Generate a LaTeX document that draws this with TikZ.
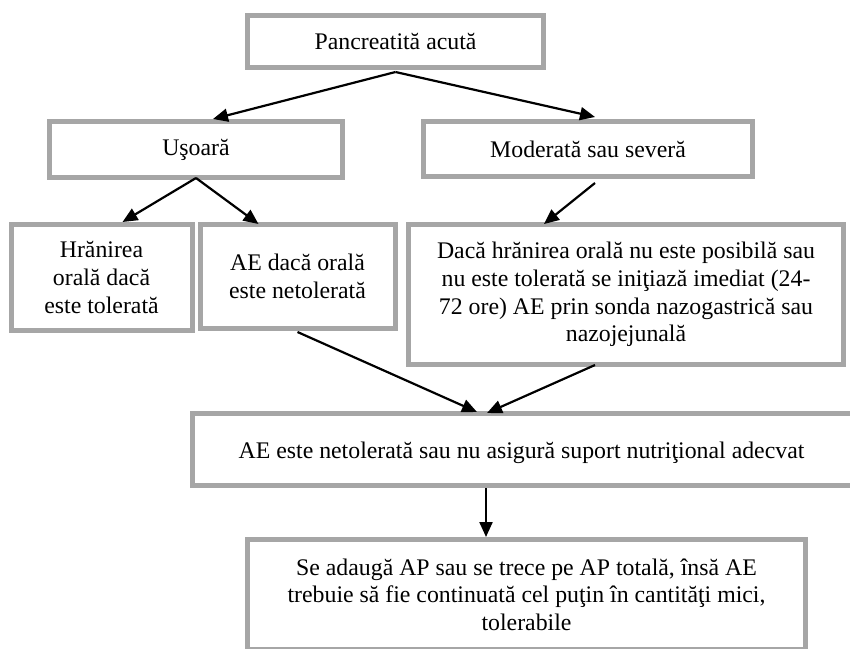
\documentclass[tikz,border=0pt]{standalone}
\usepackage{fontspec}
\setmainfont{Liberation Serif}
\usetikzlibrary{arrows.meta,calc}
\definecolor{boxgray}{RGB}{166,166,166}
\begin{document}
\begin{tikzpicture}[x=1pt,y=-1pt,
  box/.style={draw=boxgray, line width=5pt, fill=white, inner sep=0pt, align=center,
    font=\fontsize{23.8}{27.6}\selectfont},
  txt/.style={inner sep=0pt, align=center, font=\fontsize{23.8}{27.6}\selectfont},
  arr/.style={draw=black, line width=2.2pt, -{Triangle[length=15pt,width=13pt]}}]
\fill[white] (0,0) rectangle (850,648);
\useasboundingbox (0,0) rectangle (850,648);
% boxes
\node[box, minimum width=296pt, minimum height=52pt] (P) at (395.5,41.5) {Pancreatită acută};
\node[box, minimum width=293pt, minimum height=56pt] (U) at (196,149.5) {Uşoară};
\node[box, minimum width=329pt, minimum height=55pt] (M) at (588,149) {Moderată sau severă};
\node[box, minimum width=181pt, minimum height=106pt] (H) at (101.5,277.5) {Hrănirea\\orală dacă\\este tolerată};
\node[box, minimum width=195pt, minimum height=104pt] (A) at (297.5,276.5) {AE dacă orală\\este netolerată};
\node[box, minimum width=435pt, minimum height=140pt] (D) at (626,294.5) {Dacă hrănirea orală nu este posibilă sau\\nu este tolerată se iniţiază imediat (24-\\72 ore) AE prin sonda nazogastrică sau\\nazojejunală};
\node[box, minimum width=661pt, minimum height=72pt] (N) at (523,449.5) {};
\node[txt] (Nt) at (521.5,452.5) {AE este netolerată sau nu asigură suport nutriţional adecvat};
\node[box, minimum width=558pt, minimum height=110pt] (B) at (526.5,594.5) {Se adaugă AP sau se trece pe AP totală, însă AE\\trebuie să fie continuată cel puţin în cantităţi mici,\\tolerabile};
% connectors
\draw[arr] ([yshift=-2pt]P.south) -- ([xshift=17pt]U.north);
\draw[arr] ([yshift=-2pt]P.south) -- ([xshift=7pt,yshift=2pt]M.north);
\draw[arr] ([yshift=2pt]U.south) -- ([xshift=21pt]H.north);
\draw[arr] ([yshift=2pt]U.south) -- ([xshift=-39pt,yshift=-2pt]A.north);
\draw[arr] ([xshift=7pt,yshift=-4pt]M.south) -- ([xshift=-82pt,yshift=-2pt]D.north);
\draw[arr] ([yshift=-1pt]A.south) -- ([xshift=-46pt,yshift=-1pt]N.north);
\draw[arr] ([xshift=-31pt,yshift=2pt]D.south) -- ([xshift=-36pt,yshift=-2pt]N.north);
\draw[arr] ([xshift=-37pt]N.south) -- ([xshift=-40.5pt]B.north);
\end{tikzpicture}
\end{document}
